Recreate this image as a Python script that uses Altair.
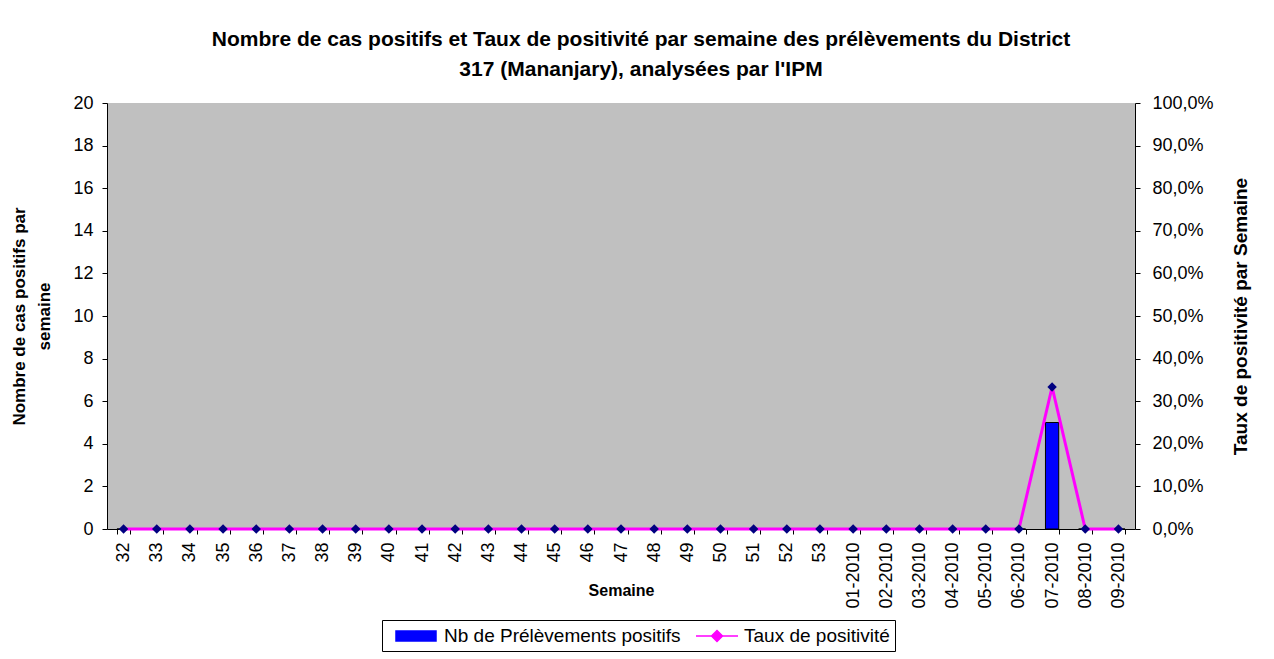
import altair as alt
import pandas as pd

semaines = ["32", "33", "34", "35", "36", "37", "38", "39", "40", "41", "42", "43",
            "44", "45", "46", "47", "48", "49", "50", "51", "52", "53",
            "01-2010", "02-2010", "03-2010", "04-2010", "05-2010", "06-2010",
            "07-2010", "08-2010", "09-2010"]
nb_positifs = [0, 0, 0, 0, 0, 0, 0, 0, 0, 0, 0, 0, 0, 0, 0, 0, 0, 0, 0, 0, 0, 0,
               0, 0, 0, 0, 0, 0, 5, 0, 0]
taux = [0, 0, 0, 0, 0, 0, 0, 0, 0, 0, 0, 0, 0, 0, 0, 0, 0, 0, 0, 0, 0, 0,
        0, 0, 0, 0, 0, 0, 0.3333, 0, 0]

S_BAR = "Nb de Prélèvements positifs"
S_LINE = "Taux de positivité"

df = pd.DataFrame({"Semaine": semaines, "nb": nb_positifs, "taux": taux})

FONT = "Liberation Sans"

x = alt.X("Semaine:N", sort=semaines, title="Semaine",
          scale=alt.Scale(paddingInner=0.6, paddingOuter=0.3),
          axis=alt.Axis(labelAngle=270, labelAlign="right", labelBaseline="middle",
                        tickBand="extent", tickSize=5, labelPadding=8,
                        labelFontSize=18,
                        titleFontWeight="bold", titleFontSize=16, titleY=53,
                        domainColor="black", tickColor="black"))

color = alt.Color("serie:N",
                  scale=alt.Scale(domain=[S_BAR, S_LINE], range=["#0000FF", "#FF00FF"]),
                  legend=alt.Legend(
                      title=None, orient="none", direction="horizontal",
                      legendX=275, legendY=517,
                      symbolType={"expr": "datum.value == '" + S_BAR + "' ? 'M-0.2,-0.5H3.8V0.5H-0.2Z' : 'M-0.2,0H4M1.9,-0.55L2.45,0L1.9,0.55L1.35,0Z'"},
                      symbolSize=400,
                      symbolFillColor={"expr": "datum.value == '" + S_BAR + "' ? '#0000FF' : '#000080'"},
                      symbolStrokeColor={"expr": "datum.value == '" + S_BAR + "' ? '#000000' : '#FF00FF'"},
                      symbolStrokeWidth=1.5,
                      labelFontSize=19, labelFont=FONT, labelColor="black",
                      labelLimit=400,
                      columnPadding=6, labelOffset=35,
                      strokeColor="black", padding=5, fillColor="white"))

bars = alt.Chart(df).transform_calculate(serie=f"'{S_BAR}'").mark_bar(
    stroke="black", strokeWidth=1).encode(
    x=x,
    y=alt.Y("nb:Q", title=["Nombre de cas positifs par", "semaine"],
            scale=alt.Scale(domain=[0, 20]),
            axis=alt.Axis(values=list(range(0, 21, 2)), grid=False, tickSize=5,
                          labelPadding=9, labelFontSize=18,
                          titleFontWeight="bold", titleFontSize=17,
                          titleLineHeight=25,
                          titlePadding=19, domainColor="black", tickColor="black")),
    color=color)

y_right = alt.Y("taux:Q", title="Taux de positivité par Semaine",
                scale=alt.Scale(domain=[0, 1]),
                axis=alt.Axis(orient="right", values=[i / 10 for i in range(11)],
                              labelExpr="replace(format(datum.value, '.1%'), '.', ',')",
                              grid=False, tickSize=5, labelPadding=12, labelFontSize=18,
                              titleFontWeight="bold", titleFontSize=19, titleAngle=270,
                              titlePadding=37, domainColor="black", tickColor="black"))

line = alt.Chart(df).transform_calculate(serie=f"'{S_LINE}'").mark_line(
    strokeWidth=3).encode(x=x, y=y_right, color=color)

points = alt.Chart(df).mark_point(shape="diamond", filled=True, color="#000080",
                                  size=90, opacity=1).encode(x=x, y=y_right)

chart = alt.layer(bars, line + points).resolve_scale(y="independent").properties(
    width=1028, height=426,
    autosize=alt.AutoSizeParams(type="none"),
    padding={"left": 99, "top": 95, "right": 130, "bottom": 125},
    title=alt.TitleParams(
        ["Nombre de cas positifs et Taux de positivité par semaine des prélèvements du District",
         "317 (Mananjary), analysées par l'IPM"],
        fontSize=21, fontWeight="bold", font=FONT, anchor="middle", dx=20,
        offset=14, lineHeight=30, color="black")
).configure(font=FONT).configure_axis(
    labelFont=FONT, titleFont=FONT, labelColor="black",
    titleColor="black").configure_view(fill="#C0C0C0", stroke=None)

chart.save("out.html", embed_options={"renderer": "svg", "actions": False})
